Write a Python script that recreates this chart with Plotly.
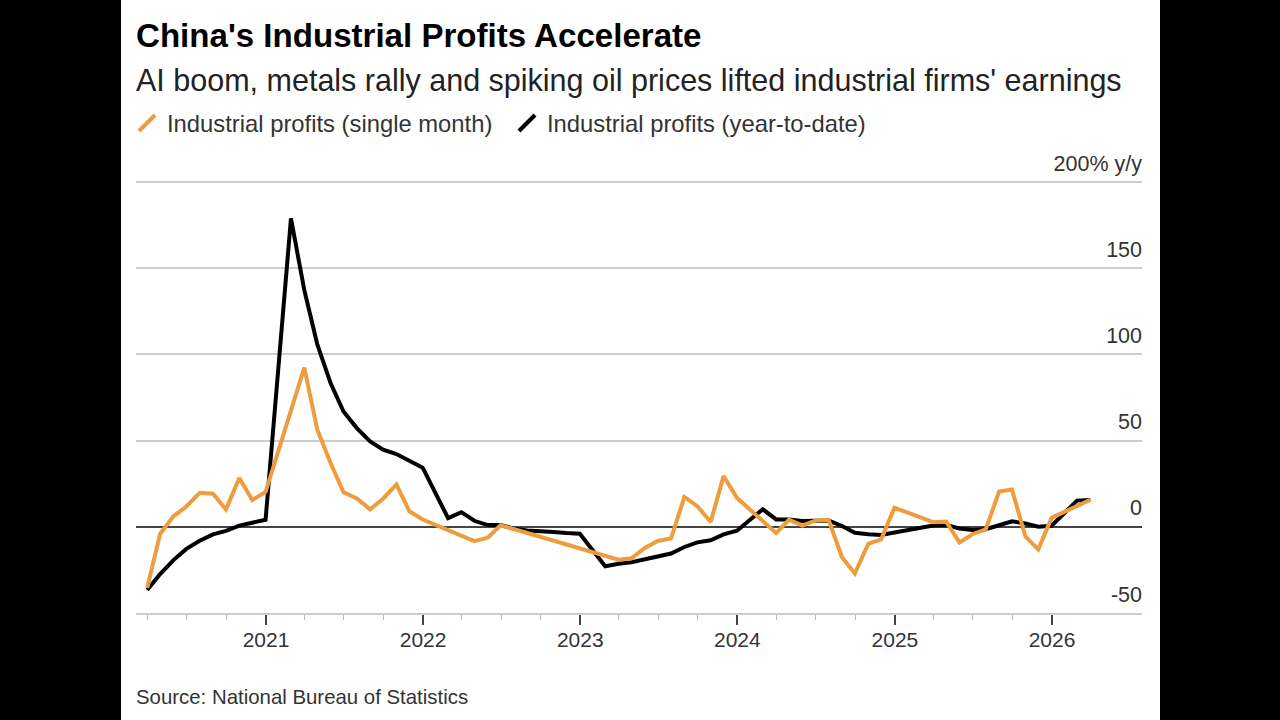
import plotly.graph_objects as go

# month-end dates, no January print (Jan-Feb reported together)
ytd_dates = [
    '2020-03-31', '2020-04-30', '2020-05-31', '2020-06-30', '2020-07-31', '2020-08-31',
    '2020-09-30', '2020-10-31', '2020-11-30', '2020-12-31',
    '2021-02-28', '2021-03-31', '2021-04-30', '2021-05-31', '2021-06-30', '2021-07-31',
    '2021-08-31', '2021-09-30', '2021-10-31', '2021-11-30', '2021-12-31',
    '2022-02-28', '2022-03-31', '2022-04-30', '2022-05-31', '2022-06-30', '2022-07-31',
    '2022-08-31', '2022-09-30', '2022-10-31', '2022-11-30', '2022-12-31',
    '2023-02-28', '2023-03-31', '2023-04-30', '2023-05-31', '2023-06-30', '2023-07-31',
    '2023-08-31', '2023-09-30', '2023-10-31', '2023-11-30', '2023-12-31',
    '2024-02-29', '2024-03-31', '2024-04-30', '2024-05-31', '2024-06-30', '2024-07-31',
    '2024-08-31', '2024-09-30', '2024-10-31', '2024-11-30', '2024-12-31',
    '2025-02-28', '2025-03-31', '2025-04-30', '2025-05-31', '2025-06-30', '2025-07-31',
    '2025-08-31', '2025-09-30', '2025-10-31', '2025-11-30', '2025-12-31',
    '2026-02-28', '2026-03-31',
]
ytd_values = [
    -36.7, -27.4, -19.3, -12.8, -8.1, -4.4, -2.4, 0.7, 2.4, 4.1,
    178.9, 137.3, 106.0, 83.4, 66.9, 57.3, 49.5, 44.7, 42.2, 38.0, 34.3,
    5.0, 8.5, 3.5, 1.0, 1.0, -1.1, -2.1, -2.3, -3.0, -3.6, -4.0,
    -22.9, -21.4, -20.6, -18.8, -16.8, -15.5, -11.7, -9.0, -7.8, -4.4, -2.3,
    10.2, 4.3, 4.3, 3.4, 3.5, 3.6, 0.5, -3.5, -4.3, -4.7, -3.3,
    -0.4, 0.8, 1.0, -1.0, -1.8, -1.4, 0.9, 3.2, 1.9, 0.1, 0.6,
    15.2, 15.5,
]

month_dates = [
    '2020-03-31', '2020-04-30', '2020-05-31', '2020-06-30', '2020-07-31', '2020-08-31',
    '2020-09-30', '2020-10-31', '2020-11-30', '2020-12-31',
    '2021-03-31', '2021-04-30', '2021-05-31', '2021-06-30', '2021-07-31', '2021-08-31',
    '2021-09-30', '2021-10-31', '2021-11-30', '2021-12-31',
    '2022-04-30', '2022-05-31', '2022-06-30',
    '2023-03-31', '2023-04-30', '2023-05-31', '2023-06-30', '2023-07-31', '2023-08-31',
    '2023-09-30', '2023-10-31', '2023-11-30', '2023-12-31',
    '2024-03-31', '2024-04-30', '2024-05-31', '2024-06-30', '2024-07-31', '2024-08-31',
    '2024-09-30', '2024-10-31', '2024-11-30', '2024-12-31',
    '2025-03-31', '2025-04-30', '2025-05-31', '2025-06-30', '2025-07-31', '2025-08-31',
    '2025-09-30', '2025-10-31', '2025-11-30', '2025-12-31',
    '2026-03-31',
]
month_values = [
    -35.5, -4.1, 6.1, 11.8, 19.7, 19.2, 10.1, 28.3, 15.5, 20.2,
    92.3, 56.5, 37.0, 20.0, 16.4, 10.1, 16.3, 24.6, 9.0, 4.2,
    -8.3, -6.3, 0.9,
    -19.1, -18.3, -12.3, -8.2, -6.7, 17.3, 12.0, 2.8, 29.5, 16.8,
    -3.6, 4.2, 0.7, 3.6, 4.0, -17.6, -27.1, -9.9, -7.3, 11.1,
    2.7, 3.0, -9.1, -4.3, -1.5, 20.4, 21.6, -5.5, -13.1, 5.2,
    15.7,
]

y_ticks = [-50, 0, 50, 100, 150, 200]
y_labels = ['-50', '0', '50', '100', '150', '200% y/y']

ORANGE = '#EE9C3E'
BLACK = '#000000'
FONT = 'Liberation Sans'

# plot area runs from y=150 to y=613 px so the 200 gridline and its label stay inside
PLOT_H = 463
PLOT_W = 1006

fig = go.Figure()

fig.add_trace(go.Scatter(x=ytd_dates, y=ytd_values, mode='lines', showlegend=False,
                         line=dict(color=BLACK, width=4)))
fig.add_trace(go.Scatter(x=month_dates, y=month_values, mode='lines', showlegend=False,
                         line=dict(color=ORANGE, width=4)))

# legend keys are slanted strokes, so use empty marker traces
for name, color in [('Industrial profits (single month)', ORANGE),
                    ('Industrial profits (year-to-date)', BLACK)]:
    fig.add_trace(go.Scatter(x=[None], y=[None], mode='markers', name=name,
                             marker=dict(symbol='line-ne', size=17, color=color,
                                         line=dict(color=color, width=4))))

fig.update_layout(
    width=1280,
    height=720,
    autosize=False,
    paper_bgcolor='#000000',
    plot_bgcolor='#FFFFFF',
    margin=dict(l=136, r=138, t=150, b=107),
    font=dict(family=FONT, color='#222222'),
    title=dict(
        text="<b>China's Industrial Profits Accelerate</b>",
        font=dict(family=FONT, size=33.1, color='#000000'),
        x=136 / 1280, xanchor='left', xref='container',
        y=1 - 35 / 720, yanchor='middle', yref='container',
    ),
    legend=dict(
        orientation='h', x=-9 / PLOT_W, xanchor='left', y=1 + 27 / PLOT_H, yanchor='middle',
        font=dict(family=FONT, size=23.8, color='#333333'),
        bgcolor='rgba(0,0,0,0)', itemwidth=30, traceorder='normal',
        entrywidth=335, entrywidthmode='pixels',
    ),
    xaxis=dict(
        type='date',
        range=['2020-03-05', '2026-07-29'],
        dtick='M12', tick0='2021-01-01', tickformat='%Y',
        ticks='outside', ticklen=10, tickwidth=1.5, tickcolor='#444444',
        ticklabelstandoff=-3,
        showgrid=False, showline=True, linecolor='#CCCCCC', linewidth=1.5,
        tickfont=dict(family=FONT, size=21, color='#333333'),
        minor=dict(dtick='M3', tick0='2021-01-01', ticks='outside', ticklen=5,
                   tickwidth=1, tickcolor='#BBBBBB', showgrid=False),
    ),
    yaxis=dict(
        range=[-50, 218.6], side='right',
        tickmode='array', tickvals=y_ticks, ticktext=y_labels,
        ticklabelposition='inside', ticklabelshift=-19, ticklabelstandoff=-3, ticks='',
        showgrid=True, gridcolor='#CCCCCC', gridwidth=1.5,
        zeroline=True, zerolinecolor='#444444', zerolinewidth=1.5,
        tickfont=dict(family=FONT, size=21.5, color='#333333'),
    ),
    shapes=[dict(type='rect', xref='paper', yref='paper', layer='below',
                 x0=-15 / PLOT_W, x1=1024 / PLOT_W, y0=-107 / PLOT_H, y1=1 + 150 / PLOT_H,
                 fillcolor='#FFFFFF', line=dict(width=0))],
    annotations=[
        dict(text="AI boom, metals rally and spiking oil prices lifted industrial firms' earnings",
             xref='paper', yref='paper', x=0, y=1 + 70 / PLOT_H, xshift=-2,
             xanchor='left', yanchor='middle', showarrow=False,
             font=dict(family=FONT, size=30.5, color='#222222')),
        dict(text='Source: National Bureau of Statistics',
             xref='paper', yref='paper', x=0, y=-84 / PLOT_H, xshift=-2,
             xanchor='left', yanchor='middle', showarrow=False,
             font=dict(family=FONT, size=20.4, color='#333333')),
    ],
)

fig.write_html('out.html', config=dict(displayModeBar=False),
               post_script="document.body.style.margin='0';document.body.style.background='#000';")
